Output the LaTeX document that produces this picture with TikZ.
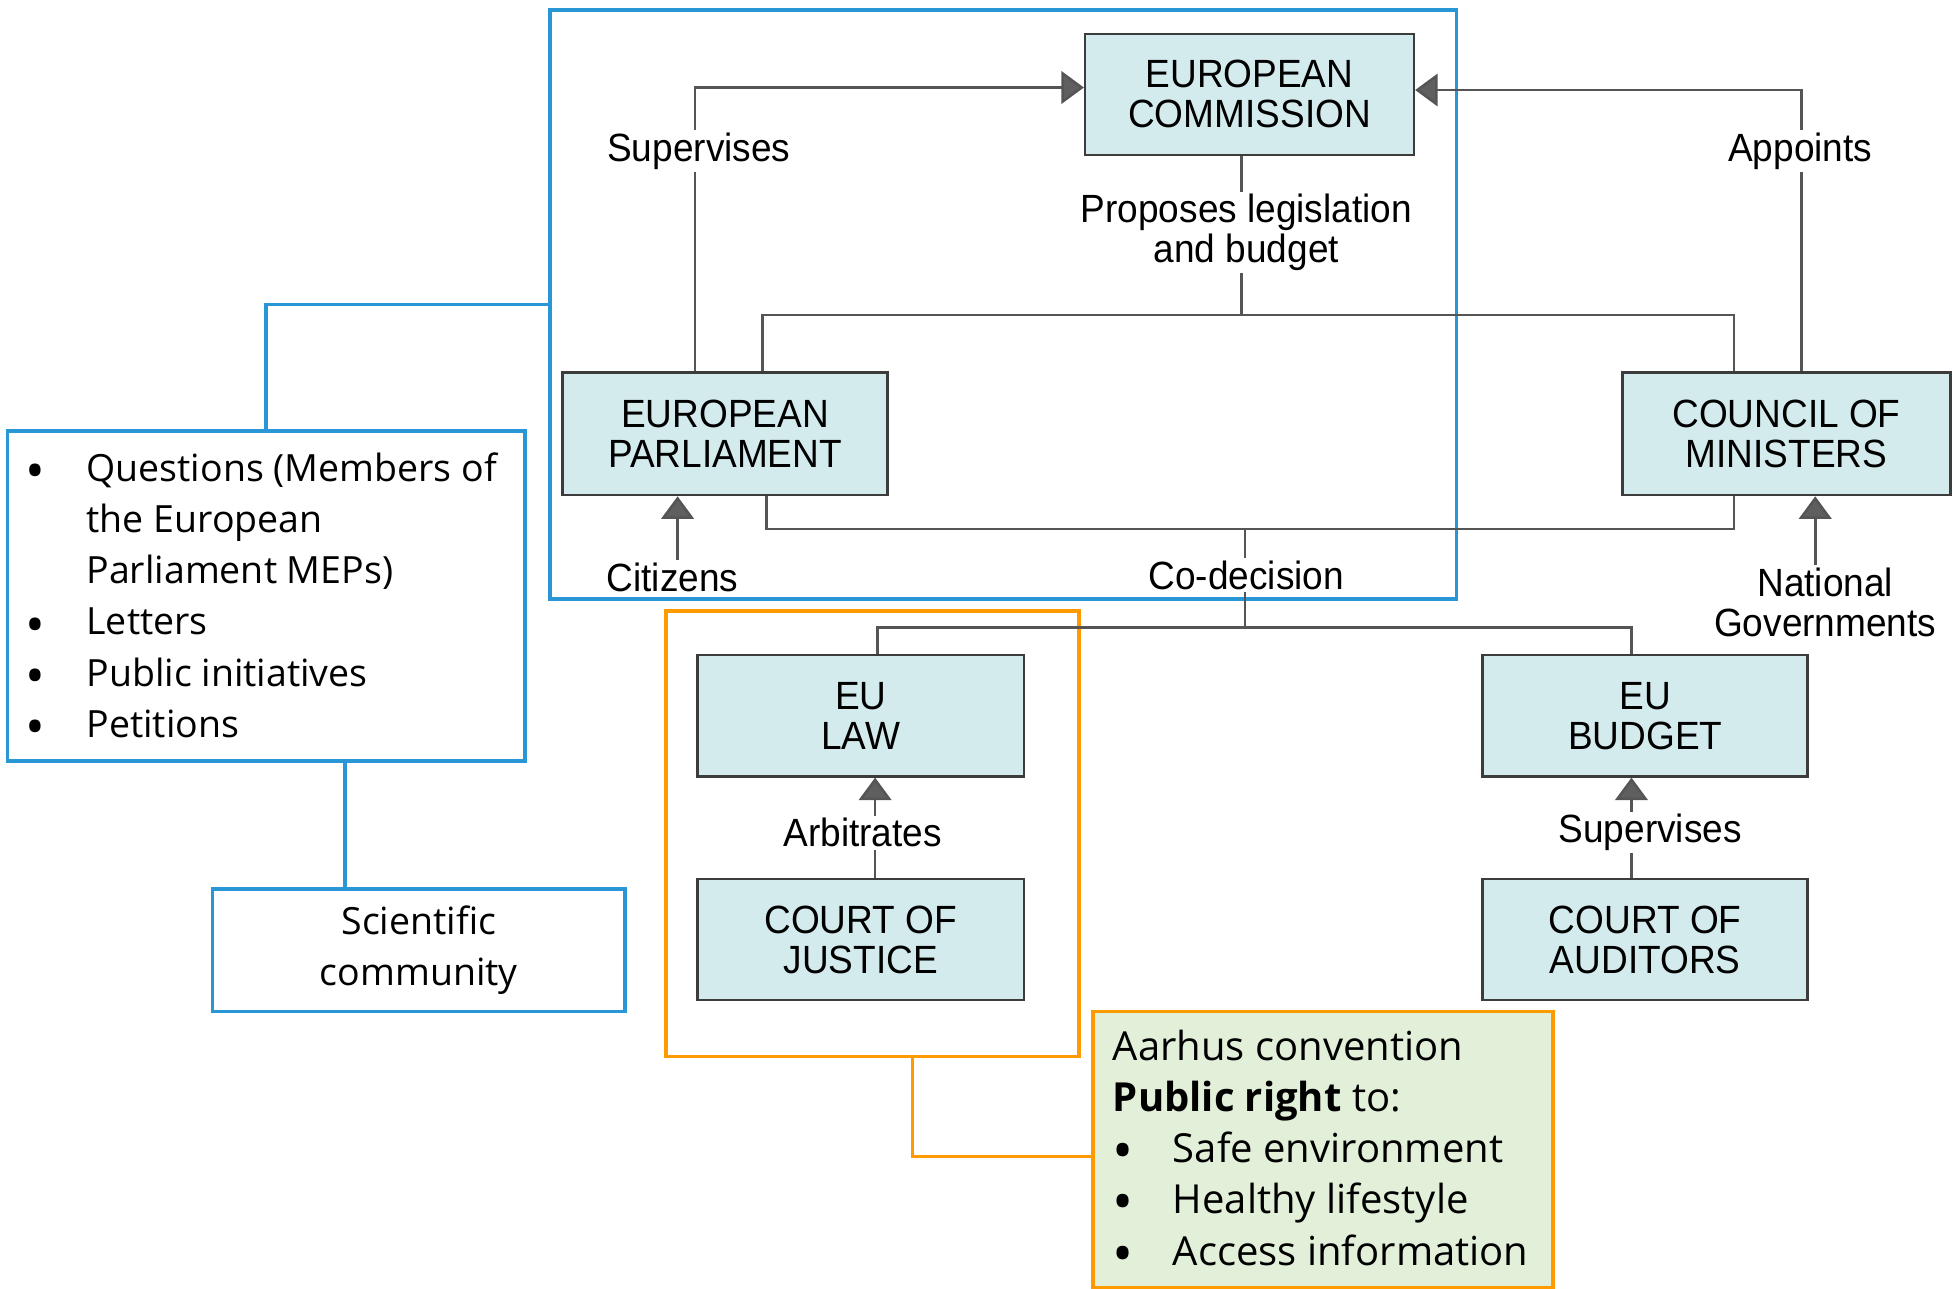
\documentclass[tikz,border=0pt]{standalone}
\usepackage{fontspec}
\setmainfont{Open Sans}
\newfontfamily\arialf[FakeStretch=0.94]{Liberation Sans}
\usetikzlibrary{arrows.meta,positioning,calc}
\definecolor{bluec}{RGB}{41,150,214}
\definecolor{orangec}{RGB}{255,155,0}
\definecolor{cyanfill}{RGB}{212,235,238}
\definecolor{greenfill}{RGB}{226,240,217}
\definecolor{boxline}{RGB}{60,60,60}
\definecolor{connc}{RGB}{85,85,85}
\definecolor{tipc}{RGB}{95,95,95}
\newcommand{\bigbul}{\smash{\raisebox{-6.5pt}{\scalebox{1.4}{\textbullet}}}}
\tikzset{
  inst/.style={draw=boxline, fill=cyanfill, line width=2pt, align=center,
    font=\arialf\fontsize{31.5}{32}\selectfont, inner sep=0pt},
  lbl/.style={fill=white, align=center, inner sep=2pt,
    font=\arialf\fontsize{31.5}{32}\selectfont},
  conn/.style={draw=connc, line width=2pt},
  arr/.style={conn, -{Triangle[length=18pt,width=26pt,fill=tipc]}},
  bluebox/.style={draw=bluec, line width=3pt, inner sep=0pt},
  orbox/.style={draw=orangec, line width=3pt, inner sep=0pt},
  blueline/.style={draw=bluec, line width=3pt},
  orline/.style={draw=orangec, line width=2pt},
  segtext/.style={font=\fontsize{30}{41}\selectfont, inner sep=0pt},
  segtextb/.style={font=\fontsize{32}{41}\selectfont, inner sep=0pt}
}
\begin{document}
\begin{tikzpicture}[x=1pt,y=-1pt]
\useasboundingbox (0,0) rectangle (1567,1031);
% frames
\node[bluebox, minimum width=725pt, minimum height=471pt] (fr1) at (802.5,243.5) {};
\node[orbox, minimum width=330pt, minimum height=356pt] (orb) at (698,667) {};
% institutions
\node[inst, minimum width=263pt, minimum height=97pt] (ec) at (999.5,75.5) {EUROPEAN\\COMMISSION};
\node[inst, minimum width=260pt, minimum height=98pt] (ep) at (580,347) {EUROPEAN\\PARLIAMENT};
\node[inst, minimum width=262pt, minimum height=98pt] (cm) at (1429,347) {COUNCIL OF\\MINISTERS};
\node[inst, minimum width=261pt, minimum height=97pt] (law) at (688.5,572.5) {EU\\LAW};
\node[inst, minimum width=261pt, minimum height=97pt] (jus) at (688.5,751.5) {COURT OF\\JUSTICE};
\node[inst, minimum width=260pt, minimum height=97pt] (bud) at (1316,572.5) {EU\\BUDGET};
\node[inst, minimum width=260pt, minimum height=97pt] (aud) at (1316,751.5) {COURT OF\\AUDITORS};
% junctions
\coordinate (j1) at (993,252);
\coordinate (j2) at (996,423);
\coordinate (j3) at (996,502);
% connectors
\draw[arr] ([xshift=-24pt]ep.north) |- ([yshift=5.5pt]ec.west);
\node[lbl] (sup1) at (559,121) {Supervises};
\draw[arr] ([xshift=12pt]cm.north) |- ([yshift=3.5pt]ec.east);
\node[lbl] (app) at (1440,121) {Appoints};
\draw[conn] ([xshift=30pt]ep.north) |- (j1) -| ([xshift=-42pt]cm.north);
\draw[conn] ([xshift=-6.5pt]ec.south) -- (j1);
\node[lbl] (prop) at (997,186) {Proposes legislation\\and budget};
\draw[conn] ([xshift=33pt]ep.south) |- (j2) -| ([xshift=-42pt]cm.south);
\draw[conn] (j2) -- (j3);
\node[lbl] (cod) at (997,460) {Co-decision};
\draw[conn] ([xshift=13.5pt]law.north) |- (j3) -| ([xshift=-11pt]bud.north);
\node[lbl, fill=none] (cit) at (538,462) {Citizens};
\draw[arr] (cit.north -| 542,0) -- ([xshift=-38pt]ep.south);
\node[lbl, fill=none] (ng) at (1460,482) {National\\Governments};
\draw[arr] (ng.north -| 1452,0) -- ([xshift=23pt]cm.south);
\draw[arr] ([xshift=11.5pt]jus.north) -- ([xshift=11.5pt]law.south);
\node[lbl] (arb) at (690,666) {Arbitrates};
\draw[arr] ([xshift=-11pt]aud.north) -- ([xshift=-11pt]bud.south);
\node[lbl] (sup2) at (1320,666) {Supervises};
% left boxes
\node[bluebox, fill=white, minimum width=414pt, minimum height=264pt] (lst) at (213,477) {};
\node[segtext, anchor=north west] (lsttxt) at (20,356) {\begin{tabular}{@{}p{49pt}@{}l@{}}
\bigbul & Questions (Members of\\
 & the European\\
 & Parliament MEPs)\\
\bigbul & Letters\\
\bigbul & Public initiatives\\
\bigbul & Petitions
\end{tabular}};
\node[bluebox, fill=white, minimum width=330pt, minimum height=98pt, align=center,
  font=\fontsize{30}{41}\selectfont] (sci) at (335,760) {Scientific\\community};
\draw[blueline] (lst.north) |- (fr1.west);
\draw[blueline] ([xshift=63pt]lst.south) -- ([xshift=-59pt]sci.north);
% Aarhus box
\node[orbox, fill=greenfill, minimum width=368pt, minimum height=221pt] (grn) at (1058,919.5) {};
\node[segtextb, anchor=north west] (grntxt) at (890,819) {\begin{tabular}{@{}p{48pt}@{}l@{}}
\multicolumn{2}{@{}l@{}}{Aarhus convention}\\
\multicolumn{2}{@{}l@{}}{\textbf{Public right} to:}\\
\bigbul & Safe environment\\
\bigbul & Healthy lifestyle\\
\bigbul & Access information
\end{tabular}};
\draw[orline] ([xshift=32pt]orb.south) |- ([yshift=-5.5pt]grn.west);
\end{tikzpicture}
\end{document}
